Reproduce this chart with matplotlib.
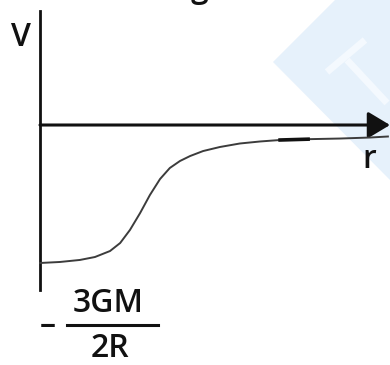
import matplotlib
matplotlib.use("Agg")
import matplotlib.pyplot as plt
from matplotlib.patches import Polygon

# potential V(r) of a solid sphere
# r in arbitrary units, V in units of GM/R
r_vals = [0.0, 0.57, 1.14, 1.57, 2.0, 2.29, 2.57, 2.86, 3.14, 3.43, 3.71, 4.0,
          4.29, 4.66, 5.14, 5.71, 6.29, 6.86, 7.66, 8.57, 9.43, 9.94]
v_vals = [-1.5, -1.489, -1.467, -1.435, -1.37, -1.283, -1.141, -0.957, -0.761,
          -0.587, -0.467, -0.391, -0.337, -0.283, -0.239, -0.201, -0.179, -0.163,
          -0.154, -0.147, -0.136, -0.125]

r_max = 10.0
v_top = 1.24
v_bottom = -1.79

fig = plt.figure(figsize=(3.9, 3.65), dpi=100)
ax = fig.add_axes([0, 0, 1, 1])
ax.set_xlim(-1.143, 10.0)
ax.set_ylim(-2.609, 1.359)
ax.axis("off")

# faint watermark in the top right corner
wm = [(273, 62), (335, 0), (390, 0), (390, 180)]
ax.add_patch(Polygon([(x / 390, 1 - y / 365) for x, y in wm], closed=True,
                     transform=fig.transFigure, facecolor="#e6f1fb",
                     edgecolor="none", zorder=0, clip_on=False))
for seg in [[(327, 72), (365, 40)], [(347, 60), (387, 103)]]:
    ax.plot([p[0] / 390 for p in seg], [1 - p[1] / 365 for p in seg],
            transform=fig.transFigure, color="#f4f9fe", lw=5,
            solid_capstyle="butt", zorder=0.5, clip_on=False)

# axes
ax.plot([0, 0], [v_bottom, v_top], color="#111111", lw=2.0, zorder=2)
ax.annotate("", xy=(r_max, 0), xytext=(0, 0),
            arrowprops=dict(arrowstyle="-|>,head_length=0.45,head_width=0.27",
                            color="#111111", lw=2.2, mutation_scale=30,
                            shrinkA=0, shrinkB=0), zorder=2)

# curve
ax.plot(r_vals, v_vals, color="#3c3c3c", lw=1.4, zorder=3,
        solid_joinstyle="round")
ax.plot(r_vals[17:19], v_vals[17:19], color="#111111", lw=2.6, zorder=3)

font = dict(family="Open Sans", fontsize=23, fontweight="semibold", color="#111111")
ax.text(-0.55, 0.95, "V", ha="center", va="center", **font)
ax.text(9.4, -0.37, "r", ha="center", va="center", **font)
ax.text(1.94, -1.94, "3GM", ha="center", va="center", **font)
ax.text(2.0, -2.43, "2R", ha="center", va="center", **font)
ax.text(0.23, -2.18, "–", ha="center", va="center", **font)
ax.plot([0.77, 3.37], [-2.174, -2.174], color="#111111", lw=2.2)
# bottom of a title letter cut off at the top edge
ax.text(4.55, 1.30, "g", ha="center", va="bottom", **font)

fig.savefig("out.png", dpi=100)
